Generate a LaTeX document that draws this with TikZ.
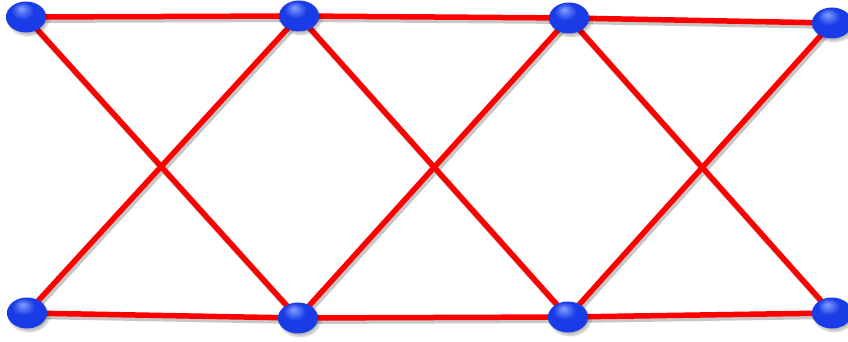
\documentclass[tikz,border=0pt]{standalone}
\usetikzlibrary{shapes.geometric,backgrounds,shadows.blur}
\definecolor{balllight}{RGB}{130,160,255}
\definecolor{ballmain}{RGB}{25,60,230}
\definecolor{balldark}{RGB}{12,30,150}
\pgfdeclareradialshading{myball}{\pgfpoint{-6bp}{14bp}}{color(0bp)=(balllight); color(14bp)=(ballmain); color(36bp)=(ballmain); color(50bp)=(balldark)}
\begin{document}
\begin{tikzpicture}[x=1pt,y=-1pt,
  ball/.style={ellipse,minimum width=40pt,minimum height=31pt,inner sep=0pt,
    shading=myball, draw=none,
    blur shadow={shadow xshift=2pt,shadow yshift=-3pt,shadow opacity=25,shadow blur steps=6}},
  rod/.style={draw=red,line width=5.5pt},
  rodshadow/.style={draw=black!22,line width=6pt,transform canvas={xshift=2pt,yshift=-3pt}}]
\useasboundingbox (0,0) rectangle (848,342);
\node[ball] (t1) at (26,17) {};
\node[ball] (t2) at (299,16) {};
\node[ball] (t3) at (569,18) {};
\node[ball] (t4) at (832,23) {};
\node[ball] (b1) at (27,313) {};
\node[ball] (b2) at (298,318) {};
\node[ball] (b3) at (568,317) {};
\node[ball] (b4) at (832,313) {};
\begin{pgfonlayer}{background}
\foreach \s in {rodshadow,rod}{
  \draw[\s] (t1.center) -- (t2.center) -- (t3.center) -- (t4.center);
  \draw[\s] (b1.center) -- (b2.center) -- (b3.center) -- (b4.center);
  \draw[\s] (t1.center) -- (b2.center);
  \draw[\s] (b1.center) -- (t2.center);
  \draw[\s] (t2.center) -- (b3.center);
  \draw[\s] (b2.center) -- (t3.center);
  \draw[\s] (t3.center) -- (b4.center);
  \draw[\s] (b3.center) -- (t4.center);
}
\end{pgfonlayer}
\end{tikzpicture}
\end{document}
